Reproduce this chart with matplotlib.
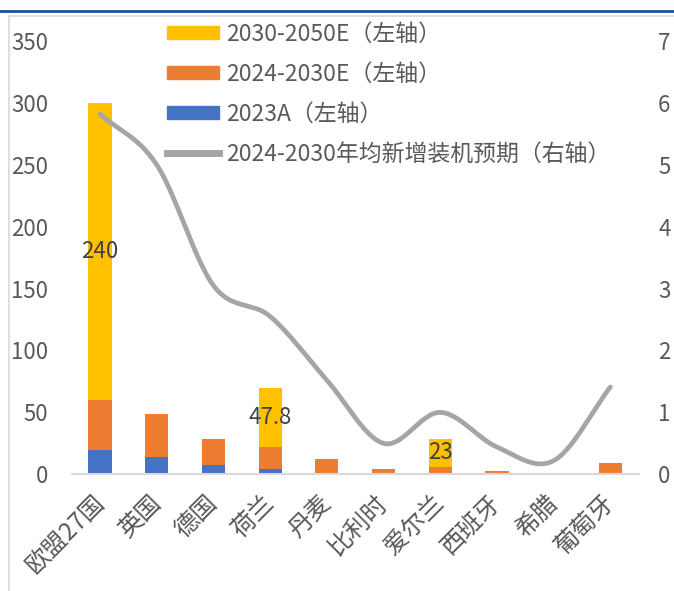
import numpy as np
import matplotlib
matplotlib.use("Agg")
import matplotlib.pyplot as plt
from matplotlib.lines import Line2D

plt.rcParams['font.family'] = ['Noto Sans CJK SC', 'DejaVu Sans']

# data (GW)
countries = ['欧盟27国', '英国', '德国', '荷兰', '丹麦', '比利时', '爱尔兰', '西班牙', '希腊', '葡萄牙']
base_2023 = [20, 14, 7.5, 4.3, 1, 1, 0.3, 0.1, 0.1, 0.1]
add_2024_2030 = [40, 35, 21, 17.9, 11.3, 3.3, 5.5, 2.6, 1, 8.9]
add_2030_2050 = [240, 0, 0, 47.8, 0, 0, 23, 0, 0, 0]
annual_new = [5.82, 5.0, 3.05, 2.55, 1.52, 0.5, 1.0, 0.44, 0.22, 1.41]

label_idx = [0, 3, 6]
legend_labels = ['2030-2050E（左轴）', '2024-2030E（左轴）', '2023A（左轴）',
                 '2024-2030年均新增装机预期（右轴）']

C_BLUE = '#4472C4'
C_ORANGE = '#ED7D31'
C_YELLOW = '#FFC000'
C_GRAY = '#A5A5A5'
TXT = '#595959'
FS = 16


def smooth(xs, ys, n=30):
    # catmull-rom curve through the points, like excel's smoothed line
    xs = np.asarray(xs, float)
    ys = np.asarray(ys, float)
    px = np.concatenate([[2 * xs[0] - xs[1]], xs, [2 * xs[-1] - xs[-2]]])
    py = np.concatenate([[2 * ys[0] - ys[1]], ys, [2 * ys[-1] - ys[-2]]])
    out_x, out_y = [], []
    t = np.linspace(0, 1, n)
    for i in range(1, len(px) - 2):
        for p, out in ((px, out_x), (py, out_y)):
            p0, p1, p2, p3 = p[i - 1], p[i], p[i + 1], p[i + 2]
            c1 = p1 + (p2 - p0) / 6
            c2 = p2 - (p3 - p1) / 6
            seg = ((1 - t) ** 3 * p1 + 3 * (1 - t) ** 2 * t * c1
                   + 3 * (1 - t) * t ** 2 * c2 + t ** 3 * p2)
            out.extend(seg if i == 1 else seg[1:])
    return np.array(out_x), np.array(out_y)


fig = plt.figure(figsize=(6.74, 5.91), dpi=100)
ax = fig.add_axes([0.1064, 0.1975, 0.8412, 0.7331])
ax2 = ax.twinx()

x = np.arange(len(countries))
w = 0.41
b1 = np.array(base_2023)
b2 = np.array(add_2024_2030)
b3 = np.array(add_2030_2050)
ax.bar(x, b1, w, color=C_BLUE, zorder=2)
ax.bar(x, b2, w, bottom=b1, color=C_ORANGE, zorder=2)
ax.bar(x, b3, w, bottom=b1 + b2, color=C_YELLOW, zorder=2)

for i in label_idx:
    v = add_2030_2050[i]
    ax.text(x[i], b1[i] + b2[i] + v / 2, f'{v:g}', ha='center', va='center',
            fontsize=FS, color='#404040', zorder=3)

sx, sy = smooth(x, annual_new)
ax2.plot(sx, sy, color=C_GRAY, lw=3.4, solid_capstyle='round')

ax.set_xlim(-0.5, len(countries) - 0.5)
ax.set_ylim(0, 350)
ax.set_yticks(np.arange(0, 351, 50))
ax2.set_ylim(0, 7)
ax2.set_yticks(np.arange(0, 8, 1))

for a in (ax, ax2):
    for s in a.spines.values():
        s.set_visible(False)
ax.spines['bottom'].set_visible(True)
ax.spines['bottom'].set_color('#D9D9D9')
ax.spines['bottom'].set_linewidth(1.5)

ax.tick_params(axis='y', length=0, labelsize=FS, labelcolor=TXT, pad=17)
ax2.tick_params(axis='y', length=0, labelsize=FS, labelcolor=TXT, pad=14)
ax.tick_params(axis='x', length=0, pad=18)
ax.set_xticks(x)
ax.set_xticklabels(countries, rotation=45, ha='right', va='center',
                   rotation_mode='anchor', fontsize=17.5, color=TXT)

handles = [plt.Rectangle((0, 0), 1, 1, color=C_YELLOW),
           plt.Rectangle((0, 0), 1, 1, color=C_ORANGE),
           plt.Rectangle((0, 0), 1, 1, color=C_BLUE),
           Line2D([], [], color=C_GRAY, lw=5)]
fig.legend(handles, legend_labels, loc='upper left',
           bbox_to_anchor=(156 / 674, 0.981), frameon=False, fontsize=16.5,
           labelcolor=TXT, borderpad=0, handlelength=2.25, handleheight=0.45,
           handletextpad=0.3, labelspacing=0.74)

# frame lines of the source picture
fig.add_artist(Line2D([0, 1], [1 - 11 / 591] * 2, color='#1F4E9A', lw=2,
                      transform=fig.transFigure))
fig.add_artist(Line2D([9 / 674, 1], [1 - 16 / 591] * 2, color='#D9D9D9', lw=1.2,
                      transform=fig.transFigure))
fig.add_artist(Line2D([9 / 674] * 2, [0, 1 - 16 / 591], color='#D9D9D9', lw=1.2,
                      transform=fig.transFigure))

fig.savefig('out.png', dpi=100)
